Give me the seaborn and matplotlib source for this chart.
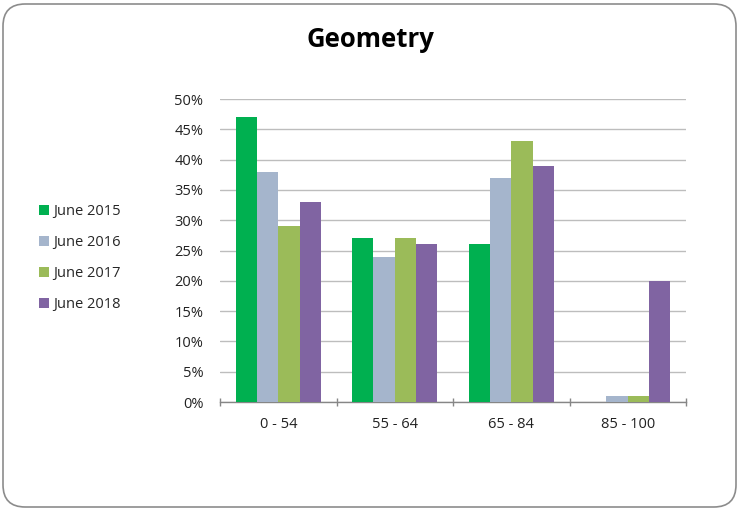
import matplotlib
matplotlib.use("Agg")
import matplotlib.pyplot as plt
from matplotlib.patches import FancyBboxPatch, Patch
from matplotlib.ticker import PercentFormatter, FixedLocator
import seaborn as sns
import pandas as pd

categories = ["0 - 54", "55 - 64", "65 - 84", "85 - 100"]
series_names = ["June 2015", "June 2016", "June 2017", "June 2018"]
june_2015 = [47, 27, 26, 0]
june_2016 = [38, 24, 37, 1]
june_2017 = [29, 27, 43, 1]
june_2018 = [33, 26, 39, 20]
colors = ["#00B050", "#A5B5CC", "#9BBB59", "#8064A2"]

rows = []
for name, vals in zip(series_names, [june_2015, june_2016, june_2017, june_2018]):
    for cat, v in zip(categories, vals):
        rows.append({"band": cat, "year": name, "pct": v})
df = pd.DataFrame(rows)

sns.set_theme(style="white")
plt.rcParams["font.family"] = ["Open Sans", "DejaVu Sans"]

fig = plt.figure(figsize=(7.39, 5.11), dpi=100)
ax = fig.add_axes([220 / 739, 1 - 402 / 511, 466 / 739, 303 / 511])

sns.barplot(data=df, x="band", y="pct", hue="year", order=categories,
            hue_order=series_names, palette=colors, saturation=1,
            width=0.73, gap=0, edgecolor="none", linewidth=0, ax=ax,
            legend=False, zorder=3)

ax.set_ylim(0, 50)
ax.set_xlim(-0.5, 3.5)
ax.set_yticks(range(0, 51, 5))
ax.yaxis.set_major_formatter(PercentFormatter(decimals=0))
ax.grid(axis="y", color="#BDBDBD", linewidth=1, zorder=0)
ax.set_axisbelow(True)
for s in ["top", "right", "left"]:
    ax.spines[s].set_visible(False)
ax.spines["bottom"].set_color("#868686")
ax.spines["bottom"].set_linewidth(1)
ax.set_xlabel("")
ax.set_ylabel("")

ax.tick_params(axis="y", length=0, pad=12, labelsize=10.5, labelcolor="#222222")
ax.tick_params(axis="x", which="major", length=0, pad=11, labelsize=10.5, labelcolor="#222222")
ax.xaxis.set_minor_locator(FixedLocator([-0.5, 0.5, 1.5, 2.5, 3.5]))
ax.tick_params(axis="x", which="minor", bottom=True, length=6, width=1,
               color="#868686", direction="inout")

fig.text(370 / 739, 1 - 39 / 511, "Geometry", ha="center", va="center",
         fontsize=18.5, fontweight="bold", color="#000000")

handles = [Patch(facecolor=c, edgecolor="none") for c in colors]
fig.legend(handles, series_names, loc="center left",
           bbox_to_anchor=(33 / 739, 1 - 258 / 511), frameon=False,
           fontsize=10.5, handlelength=0.7, handleheight=0.7,
           handletextpad=0.3, labelspacing=1.1, borderaxespad=0)

frame = FancyBboxPatch((3 / 739, 4 / 511), 733 / 739, 503 / 511,
                       boxstyle="round,pad=0,rounding_size=0.03",
                       transform=fig.transFigure, facecolor="none",
                       edgecolor="#8C8C8C", linewidth=1.2, mutation_aspect=739 / 511)
fig.patches.append(frame)

fig.savefig("out.png", dpi=100, facecolor="white")
